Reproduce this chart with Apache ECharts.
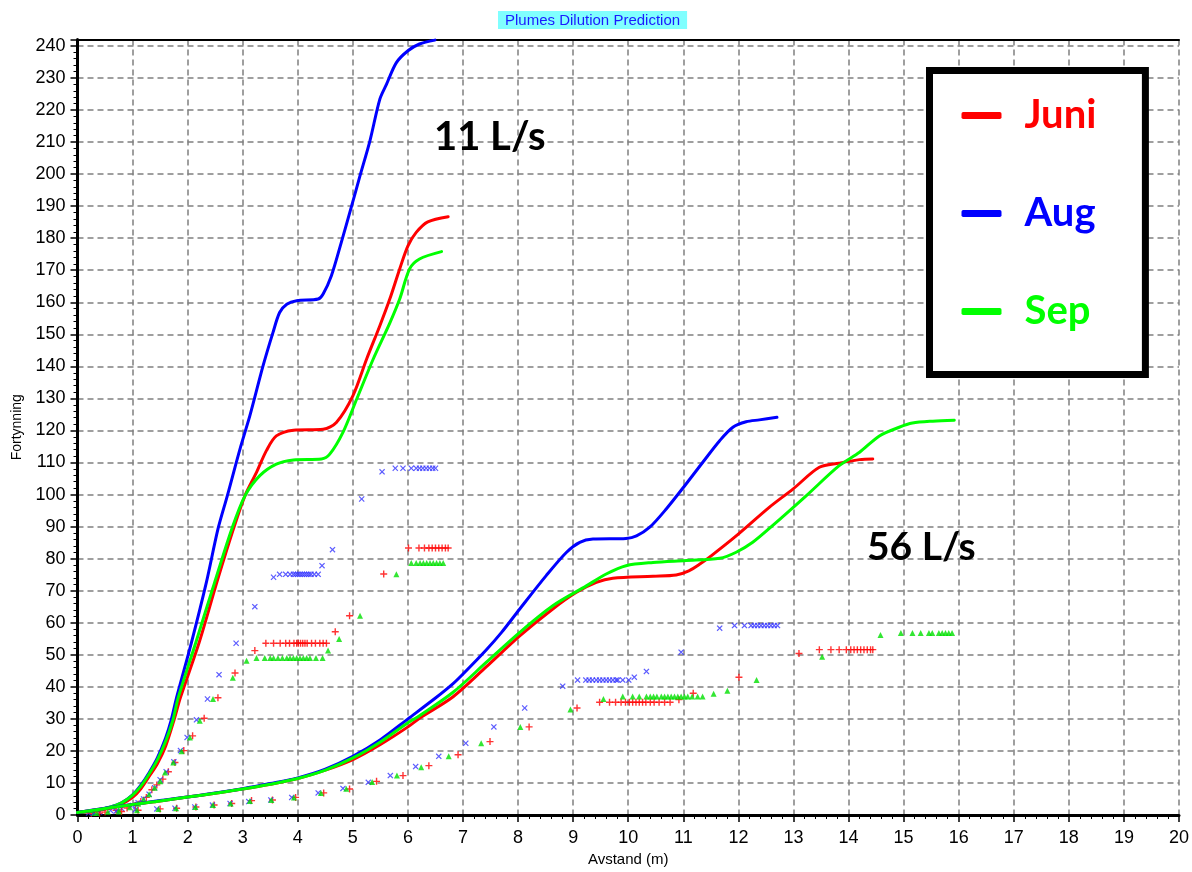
<!DOCTYPE html>
<html>
<head>
<meta charset="utf-8">
<title>Plumes Dilution Prediction</title>
<script src="https://cdn.jsdelivr.net/npm/echarts@6/dist/echarts.min.js"></script>
<style>
  html, body { margin: 0; padding: 0; background: #fff; }
  #chart { width: 1192px; height: 872px; }
</style>
</head>
<body>
<div id="chart"></div>
<script>
// Axis tick values
const xTicks = [0, 20, 1];      // min, max, step (m)
const yTicks = [0, 242, 10];    // min, max, step

// Fortynning (dilution) curves, [avstand m, fortynning], 11 L/s
const juni11 = [[0,0.8],[0.3,1.2],[0.6,2.2],[0.8,3.4],[1.0,5.5],[1.15,8.2],[1.3,12],[1.45,16],[1.6,21.5],[1.75,29.5],[1.87,36.7],[2.21,53.9],[2.53,72.6],[2.83,89.2],[3.04,99.6],[3.25,106.9],[3.43,113.7],[3.61,118.3],[3.92,120.1],[4.46,120.4],[4.70,122.5],[5.0,130.8],[5.25,142.3],[5.49,152.7],[5.67,161],[5.85,170.4],[6.0,177.6],[6.15,181.8],[6.36,185.1],[6.73,186.7]];
const aug11 = [[0,0.8],[0.3,1.3],[0.6,2.5],[0.8,3.8],[1.0,6.3],[1.15,9.3],[1.3,13.2],[1.45,17.8],[1.6,24],[1.7,29.5],[1.8,36.7],[2.07,53.9],[2.34,72.6],[2.55,89.2],[2.72,99.6],[2.95,114.2],[3.13,124.6],[3.37,140.2],[3.55,150.6],[3.67,156.8],[3.80,159.4],[3.98,160.5],[4.37,161],[4.46,162.6],[4.61,168.3],[4.79,178.7],[4.97,189.6],[5.13,199.5],[5.31,210.4],[5.49,223.4],[5.61,228],[5.79,234.8],[6.0,238.5],[6.21,240.6],[6.49,241.8]];
const sep11 = [[0,0.8],[0.3,1.3],[0.6,2.5],[0.8,3.8],[1.0,6.2],[1.15,9],[1.3,12.8],[1.45,17.2],[1.6,23],[1.73,29.5],[1.83,36.7],[2.15,53.9],[2.49,72.6],[2.80,89.2],[3.04,99.6],[3.31,105.9],[3.61,109.5],[3.92,110.8],[4.43,111.1],[4.58,112.6],[4.82,119.4],[5.07,129.8],[5.37,142.3],[5.67,153.5],[5.85,161],[6.03,170.4],[6.21,173.5],[6.61,175.8]];

// Fortynning curves, 56 L/s
const juni56 = [[0,0.8],[0.5,2],[1.0,3.3],[1.5,4.4],[2.0,5.6],[2.5,6.8],[3.0,8.1],[3.5,9.6],[4.0,11.4],[4.5,14],[5.0,17.3],[5.5,22],[6.0,27.5],[6.21,30.2],[6.82,36.9],[7.42,46.2],[8.03,55.9],[8.63,64.3],[9.06,69.5],[9.42,72.6],[9.72,73.9],[10.45,74.5],[10.87,74.9],[11.1,76.2],[11.3,78.3],[11.5,80.8],[11.96,87.1],[12.56,96],[12.99,101.7],[13.47,108.5],[13.83,109.8],[14.20,110.9],[14.44,111.1]];
const aug56 = [[0,0.8],[0.5,2.1],[1.0,3.3],[1.5,4.5],[2.0,5.6],[2.5,6.9],[3.0,8.2],[3.5,9.8],[4.0,11.6],[4.5,14.3],[5.0,18.3],[5.5,23.5],[6.0,30],[6.5,36.5],[6.82,41],[7.0,44],[7.42,51.5],[7.7,57],[8.03,64.3],[8.51,74.7],[8.88,82],[9.12,85.1],[9.36,86.1],[9.96,86.3],[10.15,87.1],[10.39,89.8],[10.69,95.5],[11.05,103.3],[11.35,110],[11.66,116.8],[11.90,121],[12.14,122.7],[12.38,123.3],[12.70,124.1]];
const sep56 = [[0,0.8],[0.5,2],[1.0,3.3],[1.5,4.4],[2.0,5.6],[2.5,6.8],[3.0,8.1],[3.5,9.6],[4.0,11.4],[4.5,14],[5.0,17.8],[5.5,22.8],[6.0,28.8],[6.21,31.0],[6.82,38.3],[7.42,47.6],[8.03,57],[8.63,65.3],[9.24,71.5],[9.60,75.2],[9.96,77.8],[10.45,78.8],[11.05,79.4],[11.66,80.1],[11.96,82],[12.26,85.1],[12.62,90.3],[13.23,99.6],[13.83,109],[14.20,113.2],[14.56,118.3],[14.92,121],[15.16,122.3],[15.53,122.9],[15.92,123.2]];

// Centerline dilution points, 11 L/s
const juniPunkter11 = [[0.25,0.5],[0.5,0.9],[0.7,1.5],[0.9,2.2],[1.05,3],[1.15,4.2],[1.25,5.5],[1.35,7.9],[1.44,9.4],[1.55,11.2],[1.65,13.5],[1.77,16.4],[1.93,20.1],[2.09,24.7],[2.30,30.2],[2.55,36.6],[2.86,44.3],[3.22,51.3],[3.42,53.6],[3.56,53.6],[3.68,53.6],[3.78,53.6],[3.85,53.6],[3.93,53.6],[3.98,53.6],[4.01,53.6],[4.05,53.6],[4.09,53.6],[4.13,53.6],[4.17,53.6],[4.25,53.6],[4.32,53.6],[4.40,53.6],[4.46,53.6],[4.52,53.6],[4.68,57.2],[4.94,62.2],[5.56,75.2],[6.01,83.3],[6.20,83.3],[6.30,83.3],[6.38,83.3],[6.44,83.3],[6.50,83.3],[6.56,83.3],[6.62,83.3],[6.68,83.3],[6.73,83.3]];
const augPunkter11 = [[0.2,0.6],[0.4,0.9],[0.6,1.4],[0.8,2.0],[1.0,3.0],[1.1,3.8],[1.2,5],[1.3,6.5],[1.4,8.5],[1.5,11],[1.61,13.5],[1.75,16.6],[1.87,20.1],[1.99,24.2],[2.16,29.7],[2.36,36.2],[2.57,43.8],[2.88,53.6],[3.22,65],[3.56,74.2],[3.67,75.1],[3.78,75.1],[3.86,75.1],[3.92,75.1],[3.96,75.1],[4.0,75.1],[4.04,75.1],[4.08,75.1],[4.12,75.1],[4.16,75.1],[4.20,75.1],[4.24,75.1],[4.30,75.1],[4.37,75.1],[4.44,77.8],[4.63,82.8],[5.16,98.6],[5.53,107.1],[5.77,108.2],[5.91,108.2],[6.06,108.2],[6.15,108.2],[6.21,108.2],[6.27,108.2],[6.33,108.2],[6.39,108.2],[6.45,108.2],[6.50,108.2]];
const sepPunkter11 = [[0.3,0.6],[0.55,1],[0.75,1.6],[0.95,2.4],[1.1,3.5],[1.2,4.8],[1.3,6.5],[1.4,8.5],[1.5,10.5],[1.59,13.3],[1.74,16.4],[1.89,19.9],[2.04,24.2],[2.22,29.4],[2.46,36.2],[2.82,42.8],[3.07,48.1],[3.25,49],[3.40,49],[3.50,49],[3.56,49],[3.64,49],[3.72,49],[3.80,49],[3.86,49],[3.92,49],[3.98,49],[4.04,49],[4.10,49],[4.16,49],[4.22,49],[4.33,49],[4.45,49],[4.55,51.3],[4.75,54.9],[5.13,62.2],[5.79,75.1],[6.06,78.6],[6.15,78.6],[6.22,78.6],[6.28,78.6],[6.34,78.6],[6.40,78.6],[6.46,78.6],[6.52,78.6],[6.58,78.6],[6.64,78.6]];

// Centerline dilution points, 56 L/s
const juniPunkter56 = [[0.4,0.6],[0.8,1.1],[1.1,1.5],[1.5,1.9],[1.8,2.1],[2.15,2.5],[2.48,3.1],[2.80,3.6],[3.16,4.5],[3.54,4.7],[3.96,5.5],[4.47,6.9],[4.94,8.1],[5.43,10.5],[5.91,12.3],[6.38,15.4],[6.91,18.8],[7.49,22.9],[8.20,27.5],[9.07,33.4],[9.48,35.2],[9.66,35.2],[9.77,35.2],[9.87,35.2],[9.95,35.2],[10.02,35.2],[10.08,35.2],[10.14,35.2],[10.20,35.2],[10.26,35.2],[10.32,35.2],[10.40,35.2],[10.47,35.2],[10.56,35.2],[10.66,35.2],[10.76,35.2],[10.92,36.0],[11.18,38.0],[12.01,43.0],[13.10,50.4],[13.47,51.6],[13.68,51.6],[13.83,51.6],[13.96,51.6],[14.04,51.6],[14.10,51.6],[14.16,51.6],[14.22,51.6],[14.28,51.6],[14.34,51.6],[14.40,51.6],[14.44,51.6]];
const augPunkter56 = [[0.3,0.6],[0.7,1.2],[1.05,1.6],[1.44,1.9],[1.77,2.1],[2.13,2.5],[2.45,3.1],[2.77,3.6],[3.11,4.2],[3.51,4.7],[3.89,5.5],[4.37,6.9],[4.82,8.3],[5.28,10.2],[5.68,12.3],[6.14,15.1],[6.56,18.3],[7.05,22.4],[7.56,27.5],[8.12,33.4],[8.81,40.2],[9.08,42.1],[9.23,42.1],[9.29,42.1],[9.35,42.1],[9.42,42.1],[9.48,42.1],[9.54,42.1],[9.60,42.1],[9.66,42.1],[9.72,42.1],[9.78,42.1],[9.81,42.1],[9.90,42.1],[10.01,42.1],[10.11,43],[10.33,44.8],[10.96,50.8],[11.66,58.3],[11.93,59.1],[12.11,59.1],[12.23,59.1],[12.29,59.1],[12.35,59.1],[12.41,59.1],[12.47,59.1],[12.53,59.1],[12.59,59.1],[12.65,59.1],[12.71,59.1]];
const sepPunkter56 = [[0.35,0.6],[0.75,1.1],[1.08,1.5],[1.47,1.9],[1.79,2.1],[2.14,2.5],[2.46,3.1],[2.78,3.6],[3.13,4.4],[3.52,4.7],[3.93,5.5],[4.42,6.9],[4.88,8.2],[5.35,10.3],[5.80,12.3],[6.24,14.9],[6.74,18.3],[7.33,22.4],[8.04,27.5],[8.95,32.9],[9.55,36.2],[9.90,37],[10.08,37],[10.20,37],[10.33,37],[10.40,37],[10.46,37],[10.52,37],[10.60,37],[10.66,37],[10.72,37],[10.78,37],[10.84,37],[10.90,37],[10.96,37],[11.02,37],[11.08,37],[11.16,37],[11.26,37],[11.35,37],[11.55,37.8],[11.80,38.8],[12.33,42.1],[13.52,49.4],[14.58,56.2],[14.95,56.8],[15.16,56.8],[15.31,56.8],[15.46,56.8],[15.52,56.8],[15.64,56.8],[15.70,56.8],[15.76,56.8],[15.82,56.8],[15.88,56.8]];

const months = ['Juni', 'Aug', 'Sep'];
const annotations = ['11 L/s', '56 L/s'];

const RED = '#ff0000', BLUE = '#0000ff', GREEN = '#00ff00';
const PLUS = 'path://M2,0H3V2H5V3H3V5H2V3H0V2H2Z';
const CROSS = 'path://M0,0.7L0.7,0L2.5,1.8L4.3,0L5,0.7L3.2,2.5L5,4.3L4.3,5L2.5,3.2L0.7,5L0,4.3L1.8,2.5Z';

function curve(name, data, color) {
  return {
    name: name, type: 'line', data: data, showSymbol: false, symbol: 'none',
    smooth: 0.3, z: 4,
    lineStyle: { color: color, width: 3, join: 'round', cap: 'round' }, itemStyle: { color: color },
    emphasis: { disabled: true }, animation: false
  };
}
function points(name, data, color, symbol, size) {
  return {
    name: name, type: 'scatter', data: data, symbol: symbol, symbolSize: size, z: 3,
    itemStyle: { color: color }, emphasis: { disabled: true }, animation: false
  };
}

const chart = echarts.init(document.getElementById('chart'), null, { renderer: 'canvas' });

const gridDash = { color: '#808080', width: 1.5, type: [6, 4] };
const labelFont = { fontFamily: 'Liberation Sans', fontSize: 18, color: '#000' };

chart.setOption({
  animation: false,
  backgroundColor: '#fff',
  title: {
    text: 'Plumes Dilution Prediction',
    left: 498, top: 11,
    padding: [2, 7, 1, 7],
    backgroundColor: '#80ffff',
    textStyle: { fontFamily: 'Liberation Sans', fontSize: 15, fontWeight: 'normal', color: '#1a1aff' }
  },
  grid: { left: 77.5, right: 12, top: 39.5, bottom: 56 },
  legend: {
    data: months.map((m, i) => ({ name: m, textStyle: { color: [RED, BLUE, GREEN][i] } })),
    orient: 'vertical',
    left: 929.5, top: 70.5,
    padding: [24, 49, 42, 32],
    itemGap: 56,
    itemWidth: 40, itemHeight: 7,
    icon: 'roundRect',
    selectedMode: false,
    borderColor: '#000', borderWidth: 7, backgroundColor: '#fff',
    textStyle: { fontFamily: 'Lato', fontWeight: 'bold', fontSize: 40, lineHeight: 42, padding: [0, 0, 0, 18] }
  },
  xAxis: [{
    type: 'value', min: xTicks[0], max: xTicks[1], interval: xTicks[2],
    name: 'Avstand (m)', nameLocation: 'middle', nameGap: 37,
    nameTextStyle: { fontFamily: 'Liberation Sans', fontSize: 15, color: '#000' },
    axisLine: { show: true, onZero: false, lineStyle: { color: '#000', width: 3 } },
    axisTick: { show: true, length: 7, lineStyle: { color: '#000', width: 1.5 } },
    minorTick: { show: true, splitNumber: 5, length: 4, lineStyle: { color: '#000', width: 1 } },
    axisLabel: Object.assign({ margin: 14 }, labelFont),
    splitLine: { show: true, lineStyle: gridDash }
  }, {
    type: 'value', position: 'top', min: xTicks[0], max: xTicks[1], interval: xTicks[2],
    axisLine: { show: true, onZero: false, lineStyle: { color: '#000', width: 2 } },
    axisTick: { show: false }, axisLabel: { show: false }, splitLine: { show: false }
  }],
  yAxis: {
    type: 'value', min: yTicks[0], max: yTicks[1], interval: yTicks[2],
    name: 'Fortynning', nameLocation: 'middle', nameGap: 52,
    nameTextStyle: { fontFamily: 'Liberation Sans', fontSize: 14, color: '#000' },
    axisLine: { show: true, onZero: false, lineStyle: { color: '#000', width: 3 } },
    axisTick: { show: true, length: 7, lineStyle: { color: '#000', width: 1.5 } },
    minorTick: { show: true, splitNumber: 5, length: 4, lineStyle: { color: '#000', width: 1 } },
    axisLabel: Object.assign({ margin: 12, showMaxLabel: false }, labelFont),
    splitLine: { show: true, lineStyle: gridDash }
  },
  graphic: [
    { type: 'text', x: 434, y: 137, z: 10,
      style: { text: annotations[0], fontFamily: 'Lato', fontWeight: 'bold', fontSize: 40, fill: '#000', align: 'left', verticalAlign: 'middle' } },
    { type: 'text', x: 867, y: 547, z: 10,
      style: { text: annotations[1], fontFamily: 'Lato', fontWeight: 'bold', fontSize: 39, fill: '#000', align: 'left', verticalAlign: 'middle' } }
  ],
  series: [
    points('Juni senterlinje 11', juniPunkter11, RED, PLUS, 7),
    points('Aug senterlinje 11', augPunkter11, '#3333ff', CROSS, 6),
    points('Sep senterlinje 11', sepPunkter11, '#00e000', 'triangle', 6),
    points('Juni senterlinje 56', juniPunkter56, RED, PLUS, 7),
    points('Aug senterlinje 56', augPunkter56, '#3333ff', CROSS, 6),
    points('Sep senterlinje 56', sepPunkter56, '#00e000', 'triangle', 6),
    curve('Juni', juni11, RED),
    curve('Aug', aug11, BLUE),
    curve('Sep', sep11, GREEN),
    curve('Juni', juni56, RED),
    curve('Aug', aug56, BLUE),
    curve('Sep', sep56, GREEN)
  ]
});
</script>
</body>
</html>
